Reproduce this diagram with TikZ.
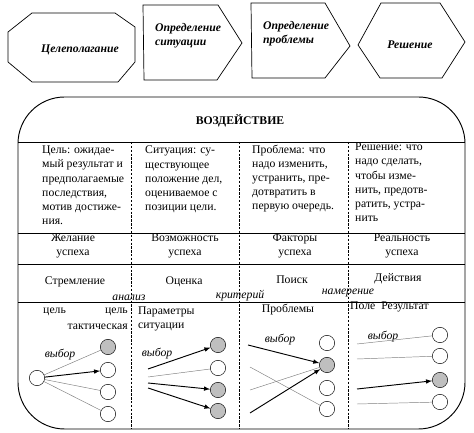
\documentclass[tikz,border=0pt]{standalone}
\usepackage{fontspec}
\setmainfont{Liberation Serif}
\usepackage{tikz}
\usetikzlibrary{shapes}
\usetikzlibrary{arrows}

\begin{document}
\begin{tikzpicture}[x=0.03cm,y=-0.03cm,
        stage/.style={font=\fontsize{10}{12}\selectfont\bfseries\itshape},
        cell/.style={font=\fontsize{10}{12}\selectfont,inner sep=0pt},
        sep/.style={thin,dash pattern=on 2pt off 1.3pt},
        pick/.style={font=\fontsize{10}{12}\selectfont\itshape,inner sep=0pt},
        alt/.style={circle,draw,thin,minimum size=0.46cm,inner sep=0pt,fill=white},
        best/.style={alt,fill=black!25},
        weak/.style={gray,thin},
        strong/.style={->,>=latex,thick}]
        \useasboundingbox (0,0) rectangle (474,433);
        % stages
        \draw[semithick] (32,13) -- (115,13) -- (135,27) -- (135,62) -- (118,82) -- (32,82) -- (8,62) -- (8,32) -- cycle;
        \draw[semithick] (143,5) -- (218,5) -- (242,43) -- (217,80) -- (144,80) -- cycle;
        \draw[semithick] (251,3) -- (325,3) -- (350,46) -- (325,78) -- (252,78) -- cycle;
        \draw[semithick] (358,45) -- (381,3) -- (440,3) -- (465,42) -- (442,78) -- (380,78) -- cycle;
        \node[stage] (goal) at (80,50) {Целеполагание};
        \node[stage,align=left,anchor=west] (sit) at (151,36) {Определение\\ситуации};
        \node[stage,align=left,anchor=west] (prob) at (259,34) {Определение\\проблемы};
        \node[stage] (dec) at (410,45) {Решение};
        % table
        \draw[thick,rounded corners=1.4cm] (18,97) rectangle (465,429);
        \node[font=\fontsize{10}{12}\selectfont\bfseries] (head) at (240,121) {ВОЗДЕЙСТВИЕ};
        \foreach \y in {142,233,264,302}
            \draw[semithick] (18,\y) -- (465,\y);
        \foreach \x in {131,239,348}
            \draw[sep] (\x,142) -- (\x,429);
        \node[cell,align=left,anchor=north west] (tgoal) at (42,146) {Цель: ожидае-\\мый результат и\\предполагаемые\\последствия,\\мотив достиже-\\ния.};
        \node[cell,align=left,anchor=north west] (tsit) at (145,146) {Ситуация: су-\\ществующее\\положение дел,\\оцениваемое с\\позиции цели.};
        \node[cell,align=left,anchor=north west] (tprob) at (252,145) {Проблема: что\\надо изменить,\\устранить, пре-\\дотвратить в\\первую очередь.};
        \node[cell,align=left,anchor=north west] (tdec) at (355,143) {Решение: что\\надо сделать,\\чтобы изме-\\нить, предотв-\\ратить, устра-\\нить};
        \node[cell,align=center] (wish) at (73,246) {Желание\\успеха};
        \node[cell,align=center] (chance) at (185,246) {Возможность\\успеха};
        \node[cell,align=center] (factor) at (295,246) {Факторы\\успеха};
        \node[cell,align=center] (real) at (402,246) {Реальность\\успеха};
        \node[cell] (drive) at (75,282) {Стремление};
        \node[cell] (rate) at (184,282) {Оценка};
        \node[cell] (seek) at (292,280) {Поиск};
        \node[cell] (act) at (398,279) {Действия};
        \node[pick,anchor=south] (anl) at (129,301) {анализ};
        \node[pick,anchor=south] (crit) at (240,301) {критерий};
        \node[pick,anchor=south] (aim) at (348,297) {намерение};
        \node[cell,anchor=west] (g1) at (43,312) {цель};
        \node[cell,anchor=east] (g2) at (128,312) {цель};
        \node[cell,anchor=east] (g3) at (128,327) {тактическая};
        \node[cell,align=left,anchor=west] (par) at (138,319) {Параметры\\ситуации};
        \node[cell] (probs) at (288,310) {Проблемы};
        \node[cell,anchor=west] (field) at (350,307) {Поле\ \ Результат};
        % choices
        \node[pick] (p1) at (60,355) {выбор};
        \node[pick] (p2) at (157,354) {выбор};
        \node[pick] (p3) at (280,340) {выбор};
        \node[pick] (p4) at (383,337) {выбор};
        \node[alt] (s1) at (37,378) {};
        \node[best] (a1) at (108,347) {};
        \node[alt] (a2) at (108,370) {};
        \node[alt] (a3) at (108,392) {};
        \node[alt] (a4) at (108,414) {};
        \draw[weak] (s1) -- (a1);
        \draw[strong] (s1) -- (a2);
        \draw[weak] (s1) -- (a3);
        \draw[weak] (s1) -- (a4);
        \node[best] (b1) at (218,345) {};
        \node[alt] (b2) at (218,368) {};
        \node[best] (b3) at (218,390) {};
        \node[best] (b4) at (218,411) {};
        \coordinate (u1) at (148,369);
        \coordinate (u2) at (148,377);
        \coordinate (u3) at (148,383);
        \coordinate (u4) at (148,388);
        \draw[strong] (u1) -- (b1);
        \draw[weak] (u2) -- (b2);
        \draw[strong] (u3) -- (b3);
        \draw[strong] (u4) -- (b4);
        \node[alt] (c1) at (327,343) {};
        \node[best] (c2) at (327,365) {};
        \node[alt] (c3) at (327,388) {};
        \node[alt] (c4) at (327,409) {};
        \coordinate (v1) at (248,345);
        \coordinate (v2) at (250,367);
        \coordinate (v3) at (250,390);
        \coordinate (v4) at (250,413);
        \draw[strong] (v1) -- (c2);
        \draw[weak] (v2) -- (c4);
        \draw[weak] (v3) -- (c2);
        \draw[strong] (v4) -- (c2);
        \node[alt] (d1) at (440,335) {};
        \node[alt] (d2) at (440,356) {};
        \node[best] (d3) at (440,380) {};
        \node[alt] (d4) at (440,402) {};
        \coordinate (w1) at (357,344);
        \coordinate (w2) at (357,359);
        \coordinate (w3) at (357,389);
        \coordinate (w4) at (357,404);
        \draw[weak] (w1) -- (d1);
        \draw[weak] (w2) -- (d2);
        \draw[strong] (w3) -- (d3);
        \draw[weak] (w4) -- (d4);
    \end{tikzpicture}
\end{document}
